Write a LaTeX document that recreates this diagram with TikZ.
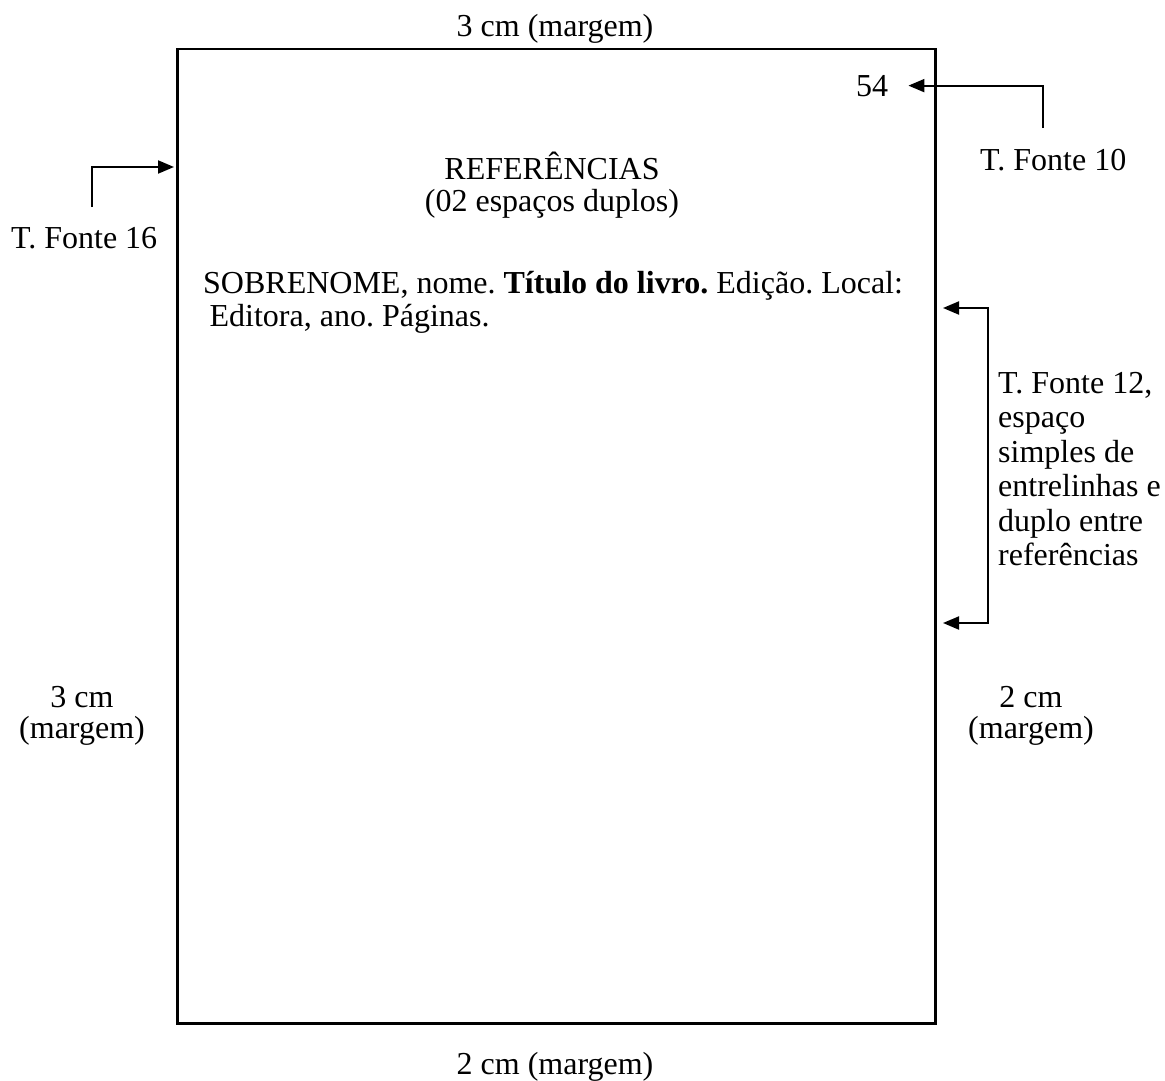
\documentclass[tikz,border=0pt]{standalone}
\usepackage{fontspec}
\setmainfont{Liberation Serif}
\usetikzlibrary{arrows.meta}
\frenchspacing
\begin{document}
\begin{tikzpicture}[x=1pt,y=-1pt,
  txt/.style={inner sep=0pt, font=\fontsize{32}{33}\selectfont},
  conn/.style={line width=2pt, -{Triangle[length=16pt,width=13pt]}},
  bothconn/.style={line width=2pt, {Triangle[length=16pt,width=13pt]}-{Triangle[length=16pt,width=13pt]}},
  pagebox/.style={draw, line width=2.5pt, inner sep=0pt, minimum width=758pt, minimum height=974pt}]
\useasboundingbox (0,0) rectangle (1165,1081);
% page
\node[pagebox, anchor=north west] (pg) at (176,48) {};
% margins
\node[txt, anchor=base] (mtop) at (555,37) {3 cm (margem)};
\node[txt, anchor=base] (mbot) at (555,1074) {2 cm (margem)};
\node[txt, anchor=north, align=center, font=\fontsize{32}{31}\selectfont] (mleft) at (82,686) {3 cm\\(margem)};
\node[txt, anchor=north, align=center, font=\fontsize{32}{31}\selectfont] (mright) at (1031,686) {2 cm\\(margem)};
% page number
\node[txt, anchor=base west] (num) at (856,96) {54};
\node[txt, anchor=base west] (f10) at (980,170) {T. Fonte 10};
\coordinate (f10up) at (1043,128);
\draw[conn] (f10up) |- ([xshift=20pt]num.east);
% title
\node[txt, anchor=north, align=center, font=\fontsize{32}{32}\selectfont] (title) at (552,152) {REFERÊNCIAS\\(02 espaços duplos)};
\node[txt, anchor=base west] (f16) at (11,248) {T. Fonte 16};
\coordinate (f16up) at (92,207);
\coordinate (f16tip) at (174,167);
\draw[conn] (f16up) |- (f16tip);
% reference
\node[txt, anchor=north west, align=left] (ref) at (203,271) {SOBRENOME, nome. \textbf{Título do livro.} Edição. Local:\\\hspace*{0.2em}Editora, ano. Páginas.};
% bracket
\coordinate (btop) at (943,308);
\coordinate (bmid) at (988,465);
\coordinate (bbot) at (943,623);
\draw[bothconn] (btop) -| (bmid) |- (bbot);
\node[txt, anchor=north west, align=left, font=\fontsize{32}{34.5}\selectfont] (f12) at (998,372) {T. Fonte 12,\\espaço\\simples de\\entrelinhas e\\duplo entre\\referências};
\end{tikzpicture}
\end{document}
